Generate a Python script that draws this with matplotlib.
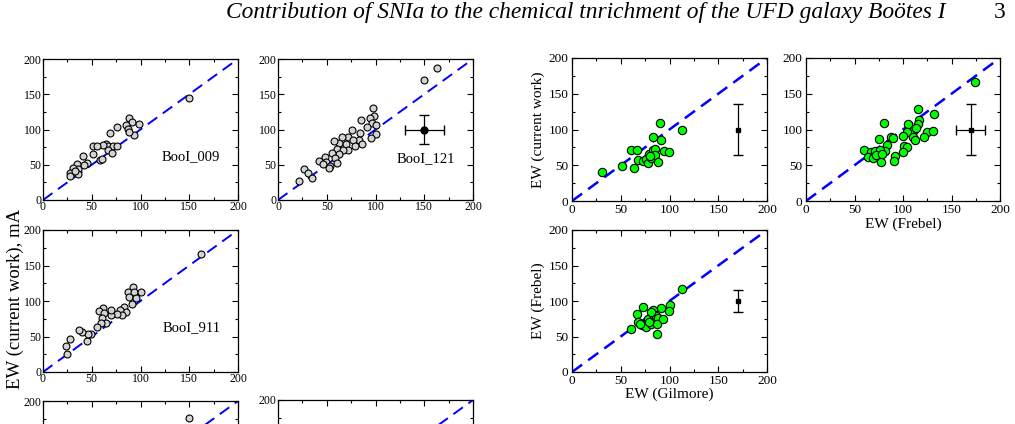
import matplotlib
matplotlib.use("Agg")
import matplotlib.pyplot as plt
from matplotlib.ticker import MultipleLocator

plt.rcParams["font.family"] = ["Liberation Serif", "DejaVu Serif"]

# EW comparisons (mA) for the three stars: x = literature, y = current work
booi009_x = [150, 88, 91, 98, 85, 76, 87, 93, 69, 65, 67, 72, 76, 67, 71, 62,
             51, 55, 51, 58, 60, 41, 45, 42, 35, 36, 31, 28, 28, 36, 33, 88]
booi009_y = [145, 117, 111, 108, 107, 103, 101, 92, 95, 80, 76, 77, 77, 71, 66, 78,
             76, 76, 65, 57, 58, 63, 53, 49, 51, 44, 45, 39, 34, 37, 41, 97]

booi121_x = [150, 163, 97, 98, 94, 96, 100, 85, 91, 100, 95, 84, 83, 86, 76, 72,
             77, 79, 70, 72, 63, 57, 60, 67, 63, 55, 58, 48, 42, 49, 53, 60, 52,
             46, 27, 31, 35, 22, 66]
booi121_y = [170, 187, 130, 119, 116, 109, 106, 113, 103, 94, 88, 95, 85, 80, 99, 90,
             85, 77, 80, 71, 81, 84, 73, 71, 65, 66, 59, 61, 56, 54, 48, 53, 45,
             51, 44, 38, 31, 27, 90]

booi911_x = [162, 92, 87, 93, 100, 88, 95, 91, 83, 85, 79, 81, 76, 70, 70, 62,
             57, 63, 61, 65, 59, 55, 49, 45, 46, 40, 37, 28, 24, 25]
booi911_y = [166, 120, 113, 113, 112, 105, 104, 96, 92, 85, 87, 80, 81, 80, 87, 90,
             86, 83, 76, 69, 69, 64, 54, 44, 53, 56, 59, 47, 37, 26]

# fourth star (only the top of its panel is on this page)
star4_x = [150]
star4_y = [176]

# current work vs Gilmore
cw_gil_x = [31, 51, 64, 60, 67, 68, 73, 76, 78, 79, 81, 83, 83, 85, 85, 88,
            90, 91, 94, 99, 113, 80]
cw_gil_y = [40, 49, 46, 72, 72, 57, 56, 59, 53, 66, 60, 71, 90, 73, 65, 55,
            109, 86, 70, 69, 100, 63]

# current work vs Frebel
cw_fre_x = [174, 115, 132, 80, 105, 116, 115, 111, 113, 104, 100, 110, 112, 125,
            131, 122, 75, 88, 90, 84, 81, 101, 104, 100, 60, 67, 71, 76, 64, 69,
            72, 77, 92, 91, 78]
cw_fre_y = [166, 129, 121, 109, 108, 113, 107, 99, 102, 96, 91, 90, 85, 96,
            98, 89, 87, 90, 88, 78, 70, 77, 75, 69, 72, 69, 70, 71, 62, 60,
            64, 55, 63, 56, 66]

# Frebel vs Gilmore
fre_gil_x = [113, 100, 99, 91, 83, 73, 67, 68, 60, 72, 76, 78, 81, 83, 86, 88,
             87, 93, 87, 79, 81, 70]
fre_gil_y = [117, 94, 86, 90, 88, 92, 82, 70, 60, 66, 64, 74, 68, 81, 79, 76,
             68, 75, 53, 70, 84, 68]

W, H = 1015, 424
fig = plt.figure(figsize=(W / 100, H / 100), dpi=100)


def add_ax(x0, x1, y0, y1):
    return fig.add_axes([x0 / W, 1 - y1 / H, (x1 - x0) / W, (y1 - y0) / H])


def style(ax, size, pad):
    ax.set_xlim(0, 200)
    ax.set_ylim(0, 200)
    for ax_ in (ax.xaxis, ax.yaxis):
        ax_.set_major_locator(MultipleLocator(50))
        ax_.set_minor_locator(MultipleLocator(25))
    ax.tick_params(which="both", direction="in", top=True, right=True,
                   labelsize=size, pad=pad, width=0.8)
    ax.tick_params(which="major", length=4)
    ax.tick_params(which="minor", length=2.5)
    for s in ax.spines.values():
        s.set_linewidth(0.9)


def small_panel(ax, x, y, name=None, lab_y=60, err=False):
    style(ax, 8.5, 1.0)
    ax.plot([0, 200], [0, 200], color="blue", lw=1.4, dashes=(6, 3.5))
    ax.plot(x, y, "o", ms=5, mfc="#d3d3d3", mec="black", mew=0.8)
    if err:
        ax.errorbar([150], [100], xerr=[20], yerr=[20], fmt="o", ms=5,
                    color="black", capsize=3.6, lw=0.9)
    if name:
        ax.text(152, lab_y, name, ha="center", va="center", fontsize=10.5)


ax1 = add_ax(43, 238, 59, 200)
small_panel(ax1, booi009_x, booi009_y, "BooI_009", 61)
ax2 = add_ax(278, 473, 59, 200)
small_panel(ax2, booi121_x, booi121_y, "BooI_121", 58, err=True)
ax3 = add_ax(43, 238, 230, 372)
small_panel(ax3, booi911_x, booi911_y, "BooI_911", 63)
ax4 = add_ax(43, 238, 401, 542)
small_panel(ax4, star4_x, star4_y)
ax5 = add_ax(278, 473, 400, 541)
small_panel(ax5, [], [])
# bottom row runs off the page: its x labels would fall outside anyway
for ax in (ax4, ax5):
    ax.tick_params(labelbottom=False)

fig.text(15 / W, 1 - 299 / H, "EW (current work), mA", rotation=90,
         ha="center", va="center", fontsize=13.5)


def big_panel(ax, x, y, xerr, yerr):
    style(ax, 9.5, 2.5)
    ax.plot([0, 200], [0, 200], color="blue", lw=1.8, dashes=(5, 3))
    ax.plot(x, y, "o", ms=6, mfc="#00ff00", mec="black", mew=0.8)
    ax.errorbar([170], [100], xerr=xerr, yerr=yerr, fmt="s", ms=3.5,
                color="black", capsize=3.6, lw=0.9)


axA = add_ax(572, 767, 58, 201)
big_panel(axA, cw_gil_x, cw_gil_y, None, [35])
axA.text(-0.175, 0.5, "EW (current work)", transform=axA.transAxes,
         rotation=90, ha="center", va="center", fontsize=11)

axB = add_ax(806, 1000, 58, 201)
big_panel(axB, cw_fre_x, cw_fre_y, [15], [35])
axB.text(0.5, -0.16, "EW (Frebel)", transform=axB.transAxes,
         ha="center", va="center", fontsize=11)

axC = add_ax(572, 767, 230, 372)
big_panel(axC, fre_gil_x, fre_gil_y, None, [15])
axC.text(0.5, -0.16, "EW (Gilmore)", transform=axC.transAxes,
         ha="center", va="center", fontsize=11)
axC.text(-0.175, 0.5, "EW (Frebel)", transform=axC.transAxes,
         rotation=90, ha="center", va="center", fontsize=11)

fig.text(946 / W, 1 - 18 / H,
         "Contribution of SNIa to the chemical tnrichment of the UFD galaxy Bo\u00f6tes I",
         ha="right", va="baseline", fontsize=16.9, style="italic")
fig.text(1006 / W, 1 - 18 / H, "3", ha="right", va="baseline", fontsize=16.9)

fig.savefig("out.png", dpi=100)
